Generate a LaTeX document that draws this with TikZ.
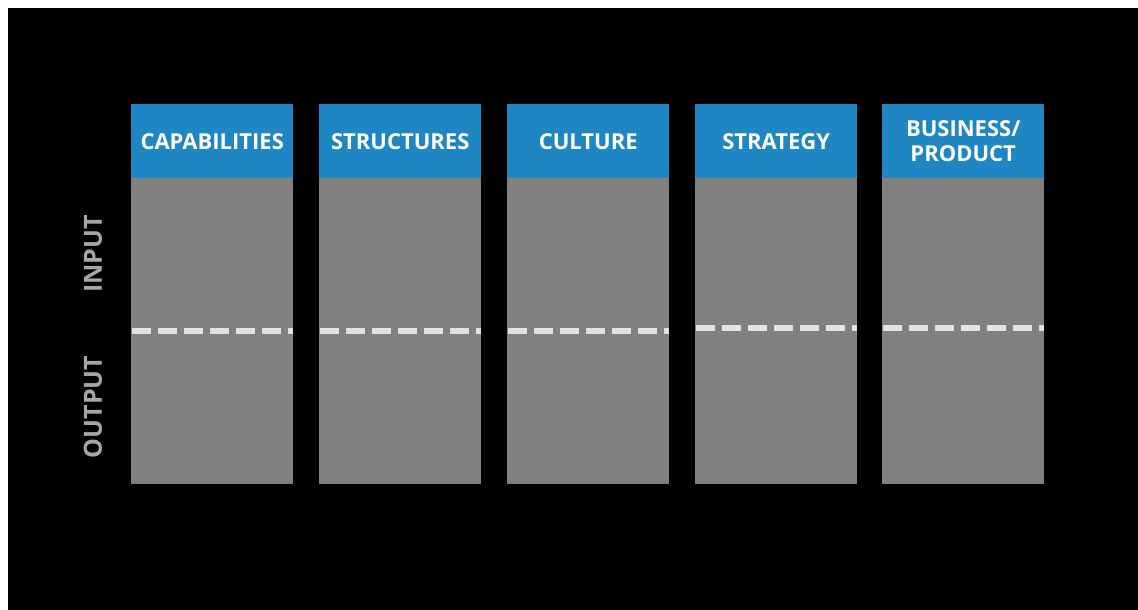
\documentclass[tikz,border=0pt]{standalone}
\usepackage{fontspec}
\setmainfont{Open Sans}
\definecolor{hdr}{HTML}{1E86C2}
\definecolor{bodygray}{HTML}{808080}
\definecolor{dashc}{HTML}{E2E2E2}
\definecolor{lblgray}{HTML}{A6A6A6}
\begin{document}
\begin{tikzpicture}[x=1pt,y=-1pt,
  hdrbox/.style={fill=hdr,draw=none,minimum width=162pt,minimum height=74pt,anchor=north west,inner sep=0pt,
    text=white,font=\bfseries\fontsize{22}{25}\selectfont,align=center},
  bodybox/.style={fill=bodygray,draw=none,minimum width=162pt,minimum height=306pt,anchor=north west,inner sep=0pt},
  divline/.style={draw=dashc,line width=6pt,dash pattern=on 19pt off 7pt},
  sidelbl/.style={text=lblgray,font=\bfseries\fontsize{25}{30}\selectfont,rotate=90,inner sep=0pt}]
\useasboundingbox (0,0) rectangle (1138,610);
\fill[white] (0,0) rectangle (1138,610);
\fill[black] (8,8) rectangle (1138,610);
\foreach \i/\x/\t/\dy in {1/131/CAPABILITIES/330.5,2/319/STRUCTURES/330.5,3/507/CULTURE/330.5,4/695/STRATEGY/327.5,5/882/{BUSINESS/\\PRODUCT}/327.5}{
  \node[bodybox] (b\i) at (\x,178) {};
  \node[hdrbox] (h\i) at (\x,104) {\t};
  \coordinate (l\i) at (\x+1,\dy);
  \coordinate (r\i) at (\x+162,\dy);
  \draw[divline] (l\i) -- (r\i);
}
\node[sidelbl] (inp) at (93,254) {INPUT};
\node[sidelbl] (outp) at (93,407) {OUTPUT};
\end{tikzpicture}
\end{document}
